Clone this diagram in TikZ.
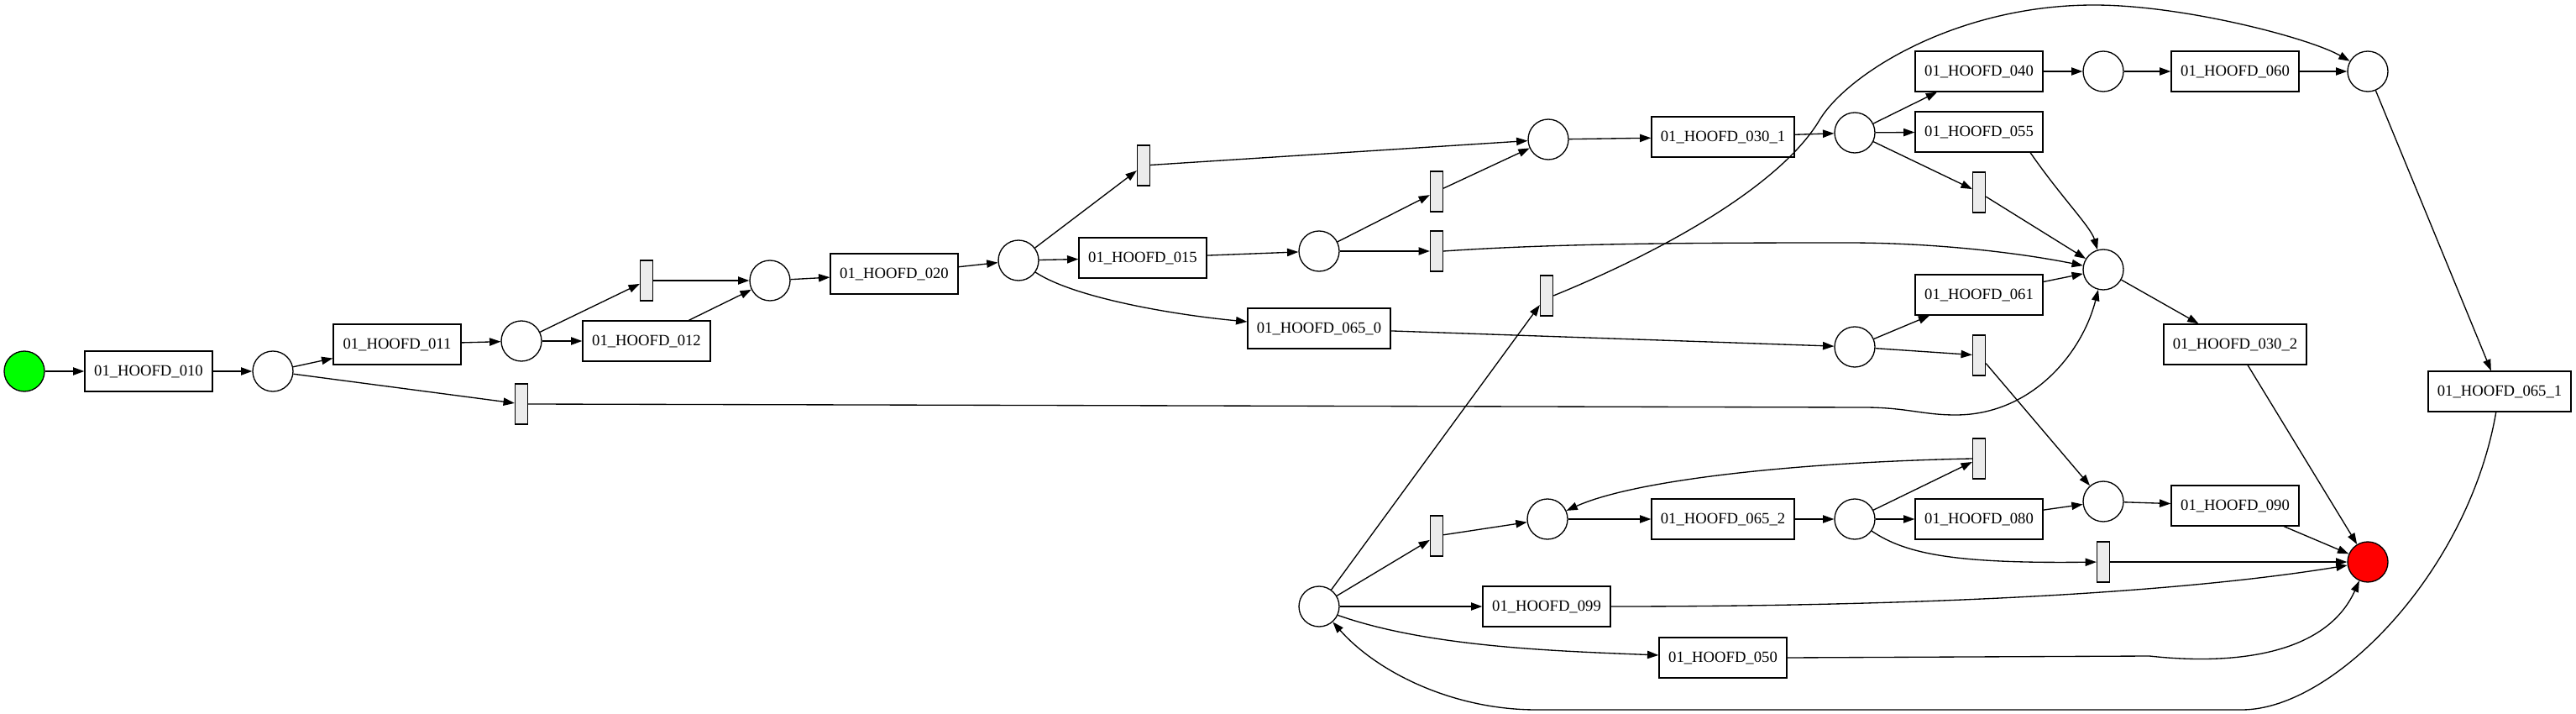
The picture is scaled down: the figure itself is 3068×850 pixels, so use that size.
\documentclass[tikz,border=0pt]{standalone}
\usepackage{fontspec}
\setmainfont{Liberation Serif}
\usetikzlibrary{arrows.meta}
\definecolor{silentgray}{RGB}{236,236,236}
\definecolor{startgreen}{RGB}{0,255,0}
\definecolor{endred}{RGB}{255,0,0}
\begin{document}
\begin{tikzpicture}[x=1pt,y=-1pt,line width=1.33pt,
  pnplace/.style={circle,draw,minimum size=48pt,inner sep=0pt},
  pntrans/.style={rectangle,draw,minimum width=152pt,minimum height=48pt,inner sep=0pt,font=\fontsize{18.67}{22}\selectfont},
  pnwide/.style={pntrans,minimum width=170pt},
  pnsilent/.style={rectangle,draw,fill=silentgray,minimum width=15pt,minimum height=48pt,inner sep=0pt},
  pnarc/.style={-{Triangle[length=13.3pt,width=9.3pt]}}
]
\useasboundingbox (0,0) rectangle (3068,850);
% places
\node[pnplace,fill=startgreen] (start) at (29,442) {};
\node[pnplace] (p1) at (325,442) {};
\node[pnplace] (p2) at (621,406) {};
\node[pnplace] (p3) at (917,334) {};
\node[pnplace] (p4) at (1213,310) {};
\node[pnplace] (p5) at (1571,299) {};
\node[pnplace] (p6) at (1844,166) {};
\node[pnplace] (p7) at (2209,158) {};
\node[pnplace] (p8) at (2505,85) {};
\node[pnplace] (p9) at (2820,85) {};
\node[pnplace] (p10) at (2505,321) {};
\node[pnplace] (p11) at (2209,413) {};
\node[pnplace] (p12) at (1571,722) {};
\node[pnplace] (p13) at (1843,618) {};
\node[pnplace] (p14) at (2209,618) {};
\node[pnplace] (p15) at (2505,597) {};
\node[pnplace,fill=endred] (end) at (2820,669) {};
% transitions
\node[pntrans] (t010) at (177,442) {01\_HOOFD\_010};
\node[pntrans] (t011) at (473,410) {01\_HOOFD\_011};
\node[pntrans] (t012) at (770,406) {01\_HOOFD\_012};
\node[pntrans] (t020) at (1065,326) {01\_HOOFD\_020};
\node[pntrans] (t015) at (1361,307) {01\_HOOFD\_015};
\node[pnwide] (t065a) at (1571,391) {01\_HOOFD\_065\_0};
\node[pnwide] (t030a) at (2052,163) {01\_HOOFD\_030\_1};
\node[pntrans] (t040) at (2357,85) {01\_HOOFD\_040};
\node[pntrans] (t060) at (2662,85) {01\_HOOFD\_060};
\node[pntrans] (t055) at (2357,157) {01\_HOOFD\_055};
\node[pntrans] (t061) at (2357,351) {01\_HOOFD\_061};
\node[pnwide] (t030b) at (2662,410) {01\_HOOFD\_030\_2};
\node[pnwide] (t065b) at (2977,466) {01\_HOOFD\_065\_1};
\node[pnwide] (t065c) at (2052,618) {01\_HOOFD\_065\_2};
\node[pntrans] (t080) at (2357,618) {01\_HOOFD\_080};
\node[pntrans] (t090) at (2662,602) {01\_HOOFD\_090};
\node[pntrans] (t099) at (1842,722) {01\_HOOFD\_099};
\node[pntrans] (t050) at (2052,783) {01\_HOOFD\_050};
% silent transitions
\node[pnsilent] (s1) at (770,334) {};
\node[pnsilent] (s2) at (621,481) {};
\node[pnsilent] (s3) at (1362,197) {};
\node[pnsilent] (s4) at (1711,228) {};
\node[pnsilent] (s5) at (1711,299) {};
\node[pnsilent] (s6) at (1842,352) {};
\node[pnsilent] (s7) at (2357,229) {};
\node[pnsilent] (s8) at (2357,423) {};
\node[pnsilent] (s9) at (1711,638) {};
\node[pnsilent] (s10) at (2357,546) {};
\node[pnsilent] (s11) at (2505,669) {};
% arcs
\draw[pnarc] (start) -- (t010);
\draw[pnarc] (t010) -- (p1);
\draw[pnarc] (p1) -- (t011);
\draw[pnarc] (p1) -- (s2);
\draw[pnarc] (t011) -- (p2);
\draw[pnarc] (p2) -- (s1);
\draw[pnarc] (p2) -- (t012);
\draw[pnarc] (s1) -- (p3);
\draw[pnarc] (t012) -- (p3);
\draw[pnarc] (p3) -- (t020);
\draw[pnarc] (t020) -- (p4);
\draw[pnarc] (p4) -- (s3);
\draw[pnarc] (p4) -- (t015);
\draw[pnarc] (p4.-35) .. controls (1280,355) and (1400,375) .. (t065a);
\draw[pnarc] (s3) -- (p6);
\draw[pnarc] (t015) -- (p5);
\draw[pnarc] (p5) -- (s4);
\draw[pnarc] (p5) -- (s5);
\draw[pnarc] (s4) -- (p6);
\draw[pnarc] (s5.east) .. controls (1850,290) and (2000,289) .. (2200,289) .. controls (2300,289) and (2400,300) .. (p10);
\draw[pnarc] (p6) -- (t030a);
\draw[pnarc] (t030a) -- (p7);
\draw[pnarc] (p7) -- (t040);
\draw[pnarc] (p7) -- (t055);
\draw[pnarc] (p7) -- (s7);
\draw[pnarc] (t040) -- (p8);
\draw[pnarc] (p8) -- (t060);
\draw[pnarc] (t060) -- (p9);
\draw[pnarc] (t055.-22) .. controls (2455,235) and (2490,270) .. (p10);
\draw[pnarc] (s7) -- (p10);
\draw[pnarc] (p10) -- (t030b);
\draw[pnarc] (t065a) -- (p11);
\draw[pnarc] (p11) -- (t061);
\draw[pnarc] (p11) -- (s8);
\draw[pnarc] (t061) -- (p10);
\draw[pnarc] (s8) -- (p15);
\draw[pnarc] (s2.east) -- (2220,485) .. controls (2270,485) and (2290,494) .. (2329,494) .. controls (2420,494) and (2480,420) .. (p10);
\draw[pnarc] (p12) -- (s6);
\draw[pnarc] (s6.east) .. controls (1990,295) and (2122,218) .. (2167,143) .. controls (2200,88) and (2330,6) .. (2494,6) .. controls (2600,6) and (2750,45) .. (p9);
\draw[pnarc] (p9) -- (t065b);
\draw[pnarc] (t065b) .. controls (2940,680) and (2780,845) .. (2670,845) -- (1830,845) .. controls (1730,845) and (1640,800) .. (p12);
\draw[pnarc] (p12) -- (s9);
\draw[pnarc] (p12) -- (t099);
\draw[pnarc] (p12.-25) .. controls (1700,770) and (1850,775) .. (t050);
\draw[pnarc] (s9) -- (p13);
\draw[pnarc] (p13) -- (t065c);
\draw[pnarc] (t065c) -- (p14);
\draw[pnarc] (p14) -- (t080);
\draw[pnarc] (p14) -- (s10);
\draw[pnarc] (p14.-35) .. controls (2270,660) and (2330,671) .. (s11);
\draw[pnarc] (s10.west) .. controls (2150,550) and (1950,570) .. (p13);
\draw[pnarc] (t080) -- (p15);
\draw[pnarc] (p15) -- (t090);
\draw[pnarc] (t090) -- (end);
\draw[pnarc] (s11) -- (end);
\draw[pnarc] (t099.east) .. controls (2300,722) and (2600,705) .. (end);
\draw[pnarc] (t050.east) -- (2560,781) .. controls (2660,792) and (2770,780) .. (end);
\draw[pnarc] (t030b) -- (end);
\end{tikzpicture}
\end{document}
